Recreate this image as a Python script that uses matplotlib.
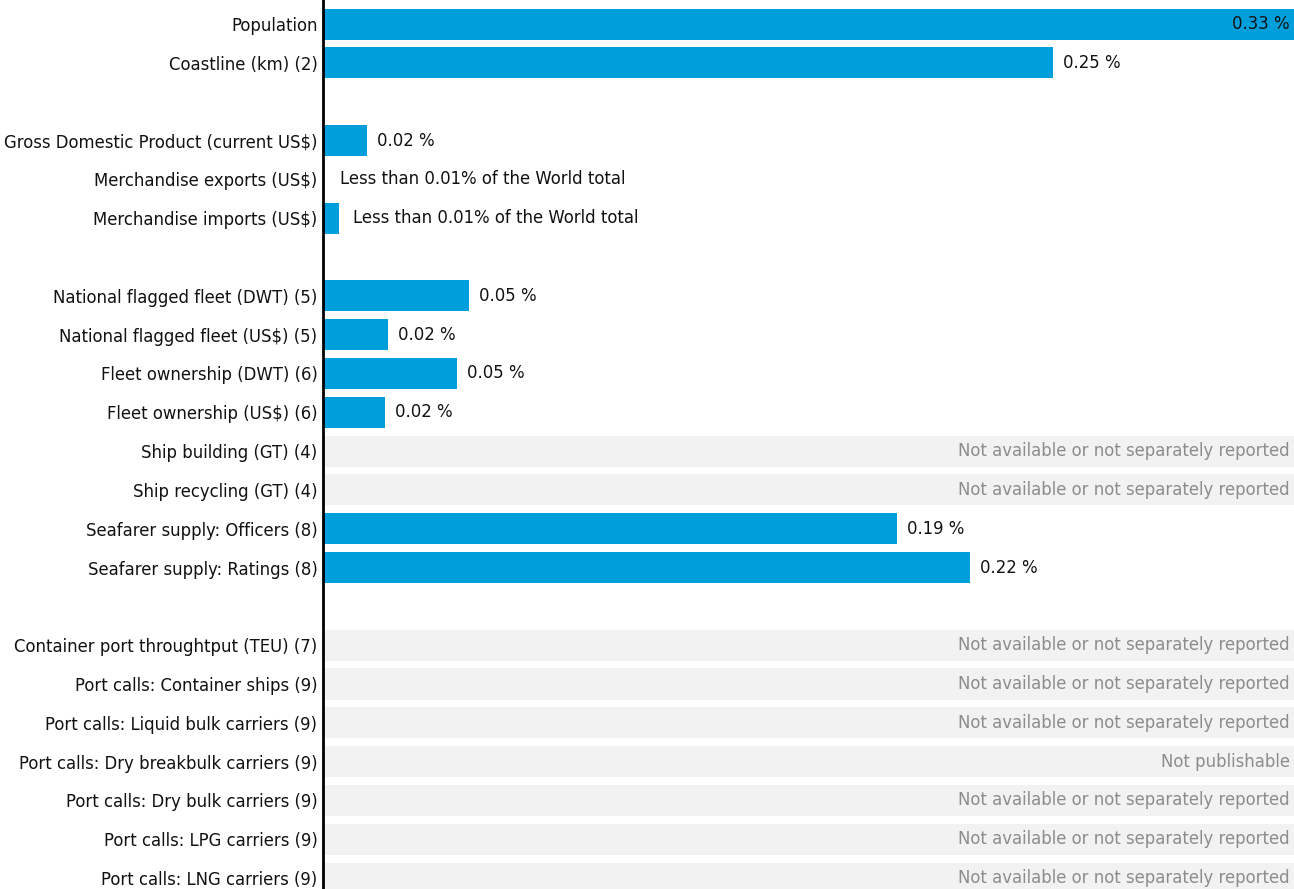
import numpy as np
import matplotlib.pyplot as plt
from matplotlib.transforms import offset_copy

# Row labels ("" marks a spacer row)
labels = [
    "Population", "Coastline (km) (2)", "",
    "Gross Domestic Product (current US$)", "Merchandise exports (US$)", "Merchandise imports (US$)", "",
    "National flagged fleet (DWT) (5)", "National flagged fleet (US$) (5)",
    "Fleet ownership (DWT) (6)", "Fleet ownership (US$) (6)",
    "Ship building (GT) (4)", "Ship recycling (GT) (4)",
    "Seafarer supply: Officers (8)", "Seafarer supply: Ratings (8)", "",
    "Container port throughtput (TEU) (7)", "Port calls: Container ships (9)",
    "Port calls: Liquid bulk carriers (9)", "Port calls: Dry breakbulk carriers (9)",
    "Port calls: Dry bulk carriers (9)", "Port calls: LPG carriers (9)", "Port calls: LNG carriers (9)",
]
# share of world total in percent (None = no bar)
shares = [
    0.33, 0.248, None,
    0.015, 0.0, 0.0055, None,
    0.0497, 0.022, 0.0456, 0.021,
    None, None,
    0.195, 0.22, None,
    None, None, None, None, None, None, None,
]
value_text = [
    "0.33 %", "0.25 %", "",
    "0.02 %", "Less than 0.01% of the World total", "Less than 0.01% of the World total", "",
    "0.05 %", "0.02 %", "0.05 %", "0.02 %",
    "", "",
    "0.19 %", "0.22 %", "",
    "", "", "", "", "", "", "",
]
not_available = "Not available or not separately reported"
missing_text = [
    "", "", "",
    "", "", "", "",
    "", "", "", "",
    not_available, not_available,
    "", "", "",
    not_available, not_available, not_available, "Not publishable",
    not_available, not_available, not_available,
]

bar_color = "#009fdb"
missing_color = "#f2f2f2"
missing_text_color = "#8c8c8c"
x_max = 0.33
fs = 11.9

plt.rcParams['font.family'] = ['DejaVu Sans']
fig = plt.figure(figsize=(12.94, 8.89), dpi=100)
ax = fig.add_axes([323 / 1294, 0, 1 - 323 / 1294, 1])

y = np.arange(len(labels))
for i, (share, vtext, mtext) in enumerate(zip(shares, value_text, missing_text)):
    if mtext:
        ax.barh(i, x_max, height=0.8, color=missing_color, zorder=1)
        tr = offset_copy(ax.transData, fig=fig, x=-4, y=0, units="dots")
        ax.text(x_max, i, mtext, transform=tr, ha="right", va="center",
                fontsize=fs, color=missing_text_color)
    elif share is not None:
        ax.barh(i, share, height=0.8, color=bar_color, zorder=2)
        if share >= x_max:
            tr = offset_copy(ax.transData, fig=fig, x=-4, y=0, units="dots")
            ax.text(share, i, vtext, transform=tr, ha="right", va="center", fontsize=fs, color="#111111")
        else:
            # the "less than" notes sit a bit further from the axis
            dx = 17 if share == 0 else (14 if vtext.startswith("Less") else 10)
            tr = offset_copy(ax.transData, fig=fig, x=dx, y=0, units="dots")
            ax.text(share, i, vtext, transform=tr, ha="left", va="center", fontsize=fs, color="#111111")

ax.set_xlim(0, x_max)
ax.set_ylim(22.28, -0.62)
ax.set_yticks(y)
ax.set_yticklabels(labels, fontsize=fs, color="#111111")
ax.tick_params(axis="y", length=0, pad=4)
ax.set_xticks([])
for side in ["top", "right", "bottom"]:
    ax.spines[side].set_visible(False)
ax.spines["left"].set_linewidth(2)
ax.spines["left"].set_color("black")
ax.spines["left"].set_zorder(5)

fig.savefig("out.png", dpi=100)
